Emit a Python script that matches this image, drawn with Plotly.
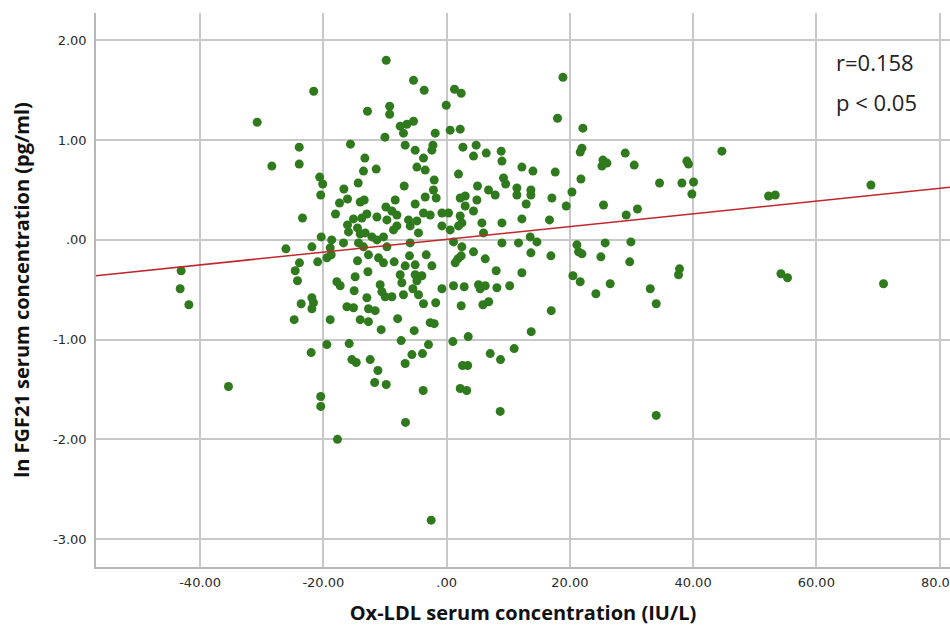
import plotly.graph_objects as go

# Ox-LDL serum concentration (IU/L), centred values
ox_ldl = [
    -43.08, -43.24, -41.83, -35.40, -30.74, -28.36, -26.08, -24.74, -24.57, -24.20,
    -23.92, -23.92, -23.88, -23.60, -23.39, -21.86, -21.86, -21.86, -21.57, -20.92,
    -20.60, -20.43, -20.35, -21.98, -20.43, -20.43, -20.11, -19.43, -18.73, -18.65,
    -18.89, -21.60, -18.89, -17.81, -17.27, -14.84, -14.46, -12.68, -11.05, -10.24,
    -12.77, -15.00, -10.78, -10.50, -9.97, -12.94, -12.68, -11.59, -16.18, -15.11,
    -14.02, -12.68, -10.62, -19.43, -15.81, -15.37, -14.67, -12.40, -11.15, -11.67,
    -9.80, -17.71, -6.67, -2.50, -3.80, -7.37, -5.63, -3.91, -6.72, -2.94,
    -2.66, -2.01, -5.26, -7.94, 1.02, 3.51, 2.58, 3.42, 2.21, 3.26,
    2.37, 5.89, 6.83, 7.08, 8.75, 10.97, 8.70, 13.73, 16.98, -1.77,
    -8.51, -6.02, -3.31, -6.72, -5.10, -2.39, -7.53, -7.26, -5.10, -4.01,
    -4.82, -8.88, -7.00, -5.47, -4.56, -3.75, -0.76, 1.12, 2.86, 5.18,
    6.27, 5.45, 8.16, 10.24, 1.83, 2.37, 1.40, 4.37, 6.27, 8.05,
    13.68, 16.93, 12.22, 20.50, 21.68, 21.41, 21.96, 25.04, 24.23, 26.55,
    29.72, -12.84, -9.24, -9.24, -10.01, -15.60, -13.26, -11.43, -13.49, -14.35,
    -16.67, -17.38, -16.08, -14.02, -13.37, -9.85, -18.03, -15.11, -12.94, -13.75,
    -11.31, -9.69, -16.08, -15.92, -14.46, -14.02, -13.21, -12.12, -11.31, -10.24,
    -16.73, -14.30, -13.49, -9.69, -5.37, -3.64, 1.28, 2.37, -0.06, -5.37,
    -6.44, -7.53, -7.00, -6.72, -1.85, 0.58, 2.21, -2.22, -2.39, -5.10,
    -3.75, 2.65, 4.80, 4.37, 6.43, 8.86, 8.98, -4.82, -3.47, 1.93,
    -2.01, -6.88, -2.13, -1.69, -3.47, -5.10, -8.34, 5.02, 6.80, 7.89,
    9.24, 9.59, 2.21, 3.02, 3.02, 4.92, -8.88, -8.07, -8.07, -8.62,
    -6.18, -5.91, -4.82, -3.75, -2.66, -0.76, 0.31, 2.21, 2.48, 1.93,
    4.37, -0.76, 0.58, -4.56, 5.73, 5.99, 8.98, -5.91, 1.12, 2.48,
    8.98, 18.88, 18.00, 22.12, 21.96, 21.68, 25.37, 25.21, 26.02, 28.99,
    12.22, 14.01, 17.63, 21.80, 11.41, 11.41, 13.68, 13.68, 12.92, 17.09,
    20.34, 19.41, 25.47, 29.15, 12.22, 16.70, 13.57, 14.66, 11.67, 21.15,
    25.74, 29.91, 30.45, 34.56, 38.19, 40.08, 39.81, 39.00, 39.26, 44.68,
    52.25, 53.34, 68.87, 30.98, 33.05, 34.02, 37.80, 37.64, 54.26, 55.33,
    70.91, 34.02, -9.80,
]

# ln FGF21 serum concentration (pg/ml)
ln_fgf21 = [
    -0.31, -0.49, -0.65, -1.47, 1.18, 0.74, -0.09, -0.80, -0.31, -0.41,
    0.93, 0.76, -0.23, -0.64, 0.22, -0.07, -0.58, -0.69, 1.49, -0.22,
    0.63, 0.45, 0.03, -1.13, -1.57, -1.67, 0.56, -0.18, -0.15, 0.00,
    -0.08, -0.63, -0.80, -0.42, -0.46, -0.37, -0.21, -0.15, -0.18, -0.23,
    -0.32, -0.51, -0.45, -0.52, -0.57, -0.58, -0.69, -0.71, -0.67, -0.68,
    -0.80, -0.82, -0.90, -1.05, -1.04, -1.20, -1.23, -1.20, -1.31, -1.43,
    -1.45, -2.00, -1.83, -2.81, -1.51, -1.01, -1.15, -1.14, -1.24, -1.05,
    -0.83, -0.84, -0.91, -0.79, -1.02, -0.97, -1.26, -1.26, -1.49, -1.51,
    -0.66, -0.65, -0.62, -1.14, -1.20, -1.09, -1.72, -0.92, -0.71, -0.63,
    -0.22, -0.16, -0.15, -0.26, -0.25, -0.26, -0.35, -0.43, -0.35, -0.36,
    -0.41, -0.57, -0.55, -0.49, -0.55, -0.64, -0.49, -0.46, -0.47, -0.45,
    -0.46, -0.49, -0.48, -0.46, -0.19, -0.16, -0.23, -0.12, -0.19, -0.31,
    -0.13, -0.16, -0.33, -0.36, -0.42, -0.12, -0.14, -0.17, -0.54, -0.44,
    -0.22, 1.29, 1.34, 1.26, 1.03, 0.96, 0.82, 0.71, 0.69, 0.57,
    0.51, 0.37, 0.41, 0.38, 0.40, 0.33, 0.26, 0.21, 0.26, 0.22,
    0.23, 0.20, 0.15, 0.08, 0.12, 0.06, 0.07, 0.03, 0.00, 0.03,
    -0.03, -0.03, -0.07, -0.07, 1.60, 1.50, 1.51, 1.47, 1.35, 1.19,
    1.16, 1.14, 1.07, 0.95, 1.07, 1.10, 1.11, 0.95, 0.90, 0.90,
    0.82, 0.93, 0.95, 0.84, 0.87, 0.89, 0.79, 0.73, 0.70, 0.66,
    0.60, 0.54, 0.50, 0.42, 0.43, 0.36, 0.40, 0.54, 0.50, 0.45,
    0.62, 0.56, 0.42, 0.44, 0.34, 0.40, 0.29, 0.25, 0.14, 0.10,
    0.20, 0.14, 0.19, 0.27, 0.25, 0.27, 0.27, 0.24, 0.17, 0.14,
    0.29, 0.14, 0.10, 0.07, 0.17, 0.07, 0.17, -0.03, -0.02, -0.07,
    -0.03, 1.63, 1.22, 1.12, 0.92, 0.88, 0.80, 0.74, 0.77, 0.87,
    0.73, 0.69, 0.68, 0.61, 0.52, 0.45, 0.50, 0.45, 0.36, 0.42,
    0.48, 0.34, 0.35, 0.25, 0.21, 0.20, 0.03, -0.02, -0.03, -0.05,
    -0.03, -0.02, 0.75, 0.57, 0.57, 0.58, 0.46, 0.79, 0.76, 0.89,
    0.44, 0.45, 0.55, 0.31, -0.49, -0.64, -0.29, -0.35, -0.34, -0.38,
    -0.44, -1.76, 1.80,
]

# Linear fit line
fit_intercept = 0.005
fit_slope = 0.0064

x_range = [-56.9, 81.7]
y_range = [-3.28, 2.275]

x_ticks = [-40, -20, 0, 20, 40, 60, 80]
x_tick_text = ["-40.00", "-20.00", ".00", "20.00", "40.00", "60.00", "80.00"]
y_ticks = [-3, -2, -1, 0, 1, 2]
y_tick_text = ["-3.00", "-2.00", "-1.00", ".00", "1.00", "2.00"]

annotation_lines = ["r=0.158", "p < 0.05"]
annotation_y = [1.78, 1.38]
annotation_x = 62.8

fig = go.Figure()
fig.add_trace(go.Scatter(
    x=ox_ldl, y=ln_fgf21, mode="markers",
    marker=dict(size=9, color="#2e7a1d", line=dict(width=0)),
    showlegend=False, hoverinfo="x+y",
))
fit_x = list(x_range)
fit_y = [fit_intercept + fit_slope * v for v in fit_x]
fig.add_trace(go.Scatter(
    x=fit_x, y=fit_y, mode="lines",
    line=dict(color="#c0262c", width=1.5),
    showlegend=False, hoverinfo="skip",
))

for txt, yy in zip(annotation_lines, annotation_y):
    fig.add_annotation(x=annotation_x, y=yy, text=txt, showarrow=False,
                       xanchor="left", yanchor="middle",
                       font=dict(family="Open Sans", size=22, color="#222222"))

tick_font = dict(family="DejaVu Sans", size=13, color="#2a2a2a")
title_font = dict(family="Open Sans", size=20, color="#111111", weight="bold")

fig.update_xaxes(
    range=x_range, tickvals=x_ticks, ticktext=x_tick_text,
    showgrid=True, gridcolor="#c8c8c8", gridwidth=1.5,
    zeroline=False, showline=True, linecolor="#b8b8b8", linewidth=1.5,
    ticks="", ticklabelstandoff=3, tickfont=tick_font, automargin=False,
    ticklabeloverflow="allow",
    title=dict(text="Ox-LDL serum concentration (IU/L)", font=title_font, standoff=17),
)
fig.update_yaxes(
    range=y_range, tickvals=y_ticks, ticktext=y_tick_text,
    showgrid=True, gridcolor="#c8c8c8", gridwidth=1.5,
    zeroline=False, showline=True, linecolor="#b8b8b8", linewidth=1.5,
    ticks="", ticklabelstandoff=5, tickfont=tick_font, automargin=False,
    title=dict(text="ln FGF21 serum concentration (pg/ml)", font=title_font, standoff=18),
)

fig.update_layout(
    width=950, height=628,
    margin=dict(l=96, r=0, t=13, b=61),
    plot_bgcolor="white", paper_bgcolor="white",
)

fig.write_html("out.html", config={"displayModeBar": False},
               post_script="document.body.style.margin='0';")
